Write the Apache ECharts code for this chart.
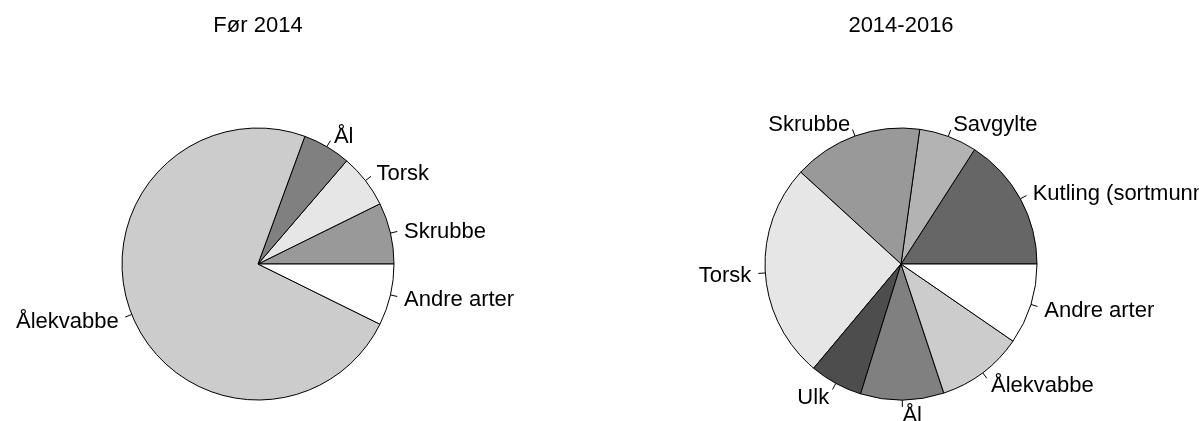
<!DOCTYPE html>
<html>
<head>
<meta charset="utf-8">
<script src="https://cdn.jsdelivr.net/npm/echarts@6/dist/echarts.min.js"></script>
<style>
html,body{margin:0;padding:0;background:#fff;}
#chart{width:1199px;height:421px;}
</style>
</head>
<body>
<div id="chart"></div>
<script>
// Titles
const titles = ['Før 2014', '2014-2016'];

// Left pie (Før 2014), counter-clockwise from 3 o'clock
const leftNames  = ['Skrubbe', 'Torsk', 'Ål', 'Ålekvabbe', 'Andre arter'];
const leftValues = [7.3, 6.4, 5.7, 73.3, 7.3];

// Right pie (2014-2016)
const rightNames  = ['Kutling (sortmunnet)', 'Savgylte', 'Skrubbe', 'Torsk', 'Ulk', 'Ål', 'Ålekvabbe', 'Andre arter'];
const rightValues = [15.9, 6.9, 15.4, 25.7, 6.3, 9.9, 10.3, 9.6];

// Fill per species
const speciesColors = {
  'Kutling (sortmunnet)': '#666666',
  'Savgylte': '#b3b3b3',
  'Skrubbe': '#999999',
  'Torsk': '#e6e6e6',
  'Ulk': '#4d4d4d',
  'Ål': '#808080',
  'Ålekvabbe': '#cccccc',
  'Andre arter': '#ffffff'
};

const FONT = '"Liberation Sans", Arial, sans-serif';

function toData(names, values) {
  return names.map((n, i) => ({ name: n, value: values[i], itemStyle: { color: speciesColors[n] } }));
}

// Push each label further out along its radial tick direction (text anchored at 1.1 r)
function radialLabelLayout(params) {
  const pts = params.labelLinePoints;
  if (!pts || pts.length < 2) return {};
  const vx = pts[1][0] - pts[0][0];
  const vy = pts[1][1] - pts[0][1];
  const len = Math.sqrt(vx * vx + vy * vy) || 1;
  const ext = 7;
  return {
    dx: vx / len * ext,
    dy: vy / len * ext + 2,
    labelLinePoints: pts
  };
}

function pieSeries(names, values, cx) {
  return {
    type: 'pie',
    center: [cx, 264],
    radius: 136,
    startAngle: 0,
    clockwise: false,
    avoidLabelOverlap: false,
    silent: true,
    animation: false,
    itemStyle: { borderColor: '#000', borderWidth: 1 },
    label: {
      show: true,
      position: 'outside',
      color: '#000',
      fontFamily: FONT,
      fontSize: 22,
      distanceToLabelLine: 0,
      overflow: 'none'
    },
    labelLine: {
      show: true,
      length: 7,
      length2: 0,
      lineStyle: { color: '#000', width: 1 }
    },
    labelLayout: radialLabelLayout,
    emphasis: { disabled: true },
    data: toData(names, values)
  };
}

const chart = echarts.init(document.getElementById('chart'), null, { renderer: 'canvas' });
chart.setOption({
  backgroundColor: '#fff',
  title: [
    { text: titles[0], left: 258, top: 15, textAlign: 'center', padding: 0,
      textStyle: { fontFamily: FONT, fontSize: 22, fontWeight: 'normal', color: '#000' } },
    { text: titles[1], left: 901, top: 15, textAlign: 'center', padding: 0,
      textStyle: { fontFamily: FONT, fontSize: 22, fontWeight: 'normal', color: '#000' } }
  ],
  series: [
    pieSeries(leftNames, leftValues, 258),
    pieSeries(rightNames, rightValues, 901)
  ]
});
</script>
</body>
</html>
